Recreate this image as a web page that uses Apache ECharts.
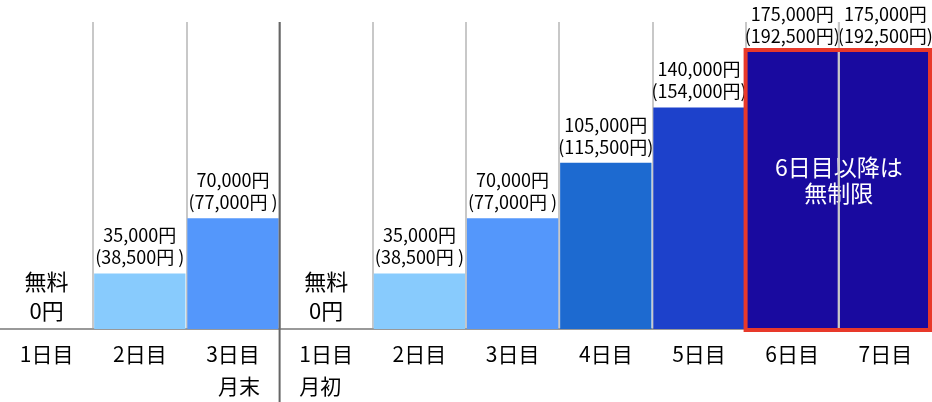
<!DOCTYPE html>
<html><head><meta charset="utf-8">
<script src="https://cdn.jsdelivr.net/npm/echarts@6/dist/echarts.min.js"></script>
<style>html,body{margin:0;padding:0;background:#fff}#c{width:932px;height:402px}</style>
</head><body><div id="c"></div>
<script>
const days = ['1日目','2日目','3日目','1日目','2日目','3日目','4日目','5日目','6日目','7日目'];
const notes = ['','','月末','月初','','','','','',''];
const fees = [0,35000,70000,0,35000,70000,105000,140000,175000,175000];
const taxIncluded = [0,38500,77000,0,38500,77000,115500,154000,192500,192500];
const barColors = ['#88cbfd','#88cbfd','#5497fb','#88cbfd','#88cbfd','#5497fb','#1d6ad0','#1d41cb','#190a9f','#190a9f'];
const freeLabel = ['無料','0円'];
const unlimitedText = ['6日目以降は','無制限'];
const yMax = 194000;

const FONT = '"Noto Sans CJK JP", sans-serif';
const chart = echarts.init(document.getElementById('c'));
const yen = v => v.toLocaleString('en-US') + '円';

const data = fees.map((v, i) => {
  const item = {value: v, itemStyle: {color: barColors[i]}};
  if (v === 0) item.label = {formatter: freeLabel.join('\n'), fontSize: 22, lineHeight: 29, distance: 4};
  return item;
});

chart.setOption({
  animation: false,
  grid: {left: 0, right: -3, top: 22, bottom: 73},
  xAxis: {
    type: 'category', data: days, boundaryGap: true,
    axisLine: {lineStyle: {color: '#999', width: 2}},
    axisTick: {show: false},
    axisLabel: {
      interval: 0, margin: 9, color: '#000', fontFamily: FONT, fontSize: 21, lineHeight: 32,
      formatter: (val, idx) => {
        const n = notes[idx];
        if (!n) return '{a|' + val + '}';
        return '{a|' + val + '}\n{' + (idx < 3 ? 'r' : 'l') + '|' + n + '}';
      },
      rich: {
        a: {fontFamily: FONT, fontSize: 21, lineHeight: 32, color: '#000'},
        r: {fontFamily: FONT, fontSize: 21, lineHeight: 32, color: '#000', padding: [0, 0, 0, 12]},
        l: {fontFamily: FONT, fontSize: 21, lineHeight: 32, color: '#000', padding: [0, 12, 0, 0]}
      }
    },
    splitLine: {show: true, interval: 0, showMinLine: false, showMaxLine: false, lineStyle: {color: '#c8c8c8', width: 2}}
  },
  yAxis: {type: 'value', min: 0, max: yMax, show: false, splitLine: {show: false}},
  series: [{
    type: 'bar', data, barCategoryGap: '2%',
    label: {
      show: true, position: 'top', distance: 5, color: '#000', fontFamily: FONT, fontSize: 18, lineHeight: 22,
      formatter: p => {
        const t = taxIncluded[p.dataIndex];
        return yen(fees[p.dataIndex]) + '\n(' + yen(t) + (t < 100000 ? ' )' : ')');
      }
    }
  }]
});

const px = (i, v) => chart.convertToPixel({seriesIndex: 0}, [i, v]);
const band = px(1, 0)[0] - px(0, 0)[0];
const sepX = (px(2, 0)[0] + px(3, 0)[0]) / 2;
const midX = (px(8, 0)[0] + px(9, 0)[0]) / 2;
const gridTop = px(0, yMax)[1];
const base = px(0, 0)[1];
const boxL = px(8, 0)[0] - band / 2;
const boxR = Math.min(px(9, 0)[0] + band / 2, chart.getWidth() - 2);
const boxT = px(8, fees[8])[1] - 2;

chart.setOption({
  graphic: [
    {type: 'text', z: 100, style: {text: unlimitedText.join('\n'), x: midX, y: px(8, 94000)[1],
      fill: '#fff', fontSize: 23, lineHeight: 26, fontFamily: FONT, align: 'center', verticalAlign: 'middle'}},
    {type: 'line', z: 101, shape: {x1: midX, y1: gridTop, x2: midX, y2: base}, style: {stroke: '#c8c8c8', lineWidth: 2}},
    {type: 'line', z: 101, shape: {x1: sepX, y1: gridTop, x2: sepX, y2: 402}, style: {stroke: '#666', lineWidth: 2}},
    {type: 'rect', z: 102, shape: {x: boxL, y: boxT, width: boxR - boxL, height: base + 1 - boxT}, style: {fill: 'none', stroke: '#e8392a', lineWidth: 4}}
  ]
});
</script></body></html>
